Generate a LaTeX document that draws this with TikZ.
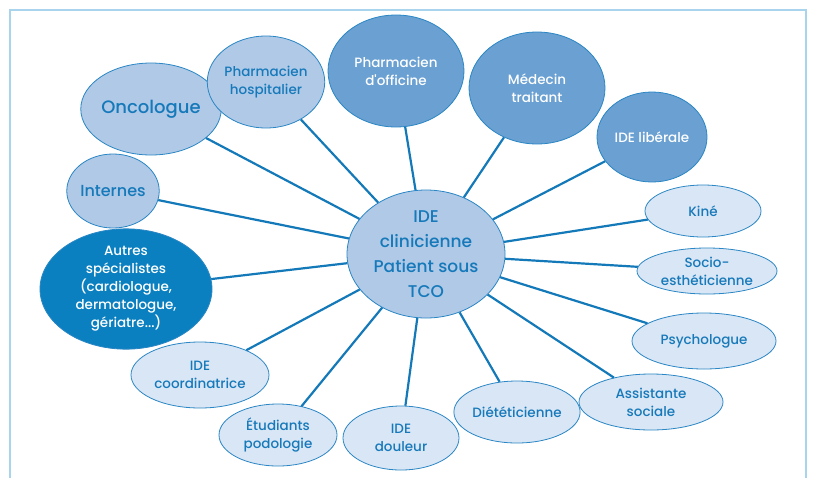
\documentclass[tikz,border=0pt]{standalone}
\usepackage{fontspec}
\setmainfont{Poppins}[UprightFont=* Medium, Ligatures=TeXOff]
\usetikzlibrary{shapes.geometric}
\definecolor{framecol}{HTML}{A8D4EE}
\definecolor{edgeblue}{HTML}{2A86C4}
\definecolor{linkblue}{HTML}{1479B8}
\definecolor{txtblue}{HTML}{1679BA}
\definecolor{paleblue}{HTML}{D9E6F5}
\definecolor{lightblue}{HTML}{AFC9E7}
\definecolor{midblue}{HTML}{6AA0D2}
\definecolor{deepblue}{HTML}{0A80C0}
\tikzset{
  bubble/.style={ellipse, draw=edgeblue, line width=0.8pt, inner sep=0pt,
    align=center, font=\fontsize{13.5}{18}\selectfont},
  pale/.style={bubble, fill=paleblue, text=txtblue},
  light/.style={bubble, fill=lightblue, text=txtblue},
  mid/.style={bubble, fill=midblue, text=white},
  deep/.style={bubble, fill=deepblue, text=white},
  link/.style={draw=linkblue, line width=2.2pt},
  sz/.style 2 args={minimum width=#1pt, minimum height=#2pt}
}
\begin{document}
\begin{tikzpicture}[x=1pt,y=-1pt]
\useasboundingbox (0,0) rectangle (813,477);
% outer frame, open at the bottom
\draw[framecol, line width=1.2pt] (10,480) -- (10,10) -- (806,10) -- (806,480);

% central bubble
\node[light, sz={158}{128}, font=\fontsize{17}{25}\selectfont] (c) at (426,254)
  {IDE\\clinicienne\\Patient sous\\TCO};

% surrounding bubbles
\node[light, sz={114}{92}, font=\fontsize{18}{20}\selectfont] (onco) at (151,109) {Oncologue};
\node[light, sz={116}{92}] (phh) at (266,82) {Pharmacien\\hospitalier};
\node[mid, sz={136}{112}] (pho) at (396,71) {Pharmacien\\d'officine};
\node[mid, sz={136}{112}] (med) at (537,88) {Médecin\\traitant};
\node[mid, sz={110}{90}] (lib) at (652,137) {IDE libérale};
\node[light, sz={90}{74}, font=\fontsize{16}{18}\selectfont] (int) at (113,191) {Internes};
\node[deep, sz={172}{112}] (aut) at (126,289)
  {Autres\\spécialistes\\(cardiologue,\\dermatologue,\\gériatre...)};
\node[pale, sz={116}{52}] (kine) at (703,211) {Kiné};
\node[pale, sz={140}{46}] (socio) at (707,271) {Socio-\\esthéticienne};
\node[pale, sz={144}{56}] (psy) at (704,341) {Psychologue};
\node[pale, sz={144}{56}] (ass) at (651,402) {Assistante\\sociale};
\node[pale, sz={116}{62}] (diet) at (517,412) {Diététicienne};
\node[pale, sz={116}{64}] (doul) at (401,438) {IDE\\douleur};
\node[pale, sz={118}{62}] (etu) at (278,435) {Étudiants\\podologie};
\node[pale, sz={138}{66}] (coord) at (200,375) {IDE\\coordinatrice};

% spokes from the centre
\foreach \n in {onco,phh,pho,med,lib,int,aut,kine,socio,psy,ass,diet,doul,etu,coord}
  \draw[link] (c) -- (\n);
\end{tikzpicture}
\end{document}
